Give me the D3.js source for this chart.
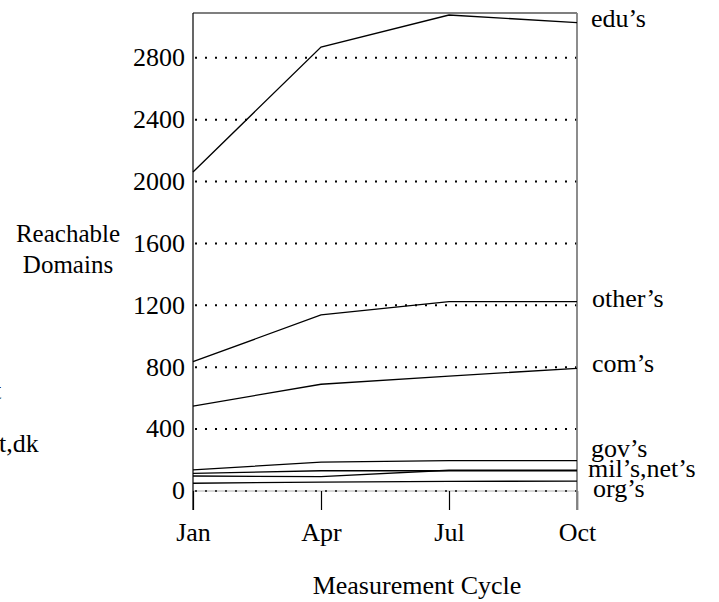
<!DOCTYPE html>
<html>
<head>
<meta charset="utf-8">
<script src="https://cdn.jsdelivr.net/npm/d3@7/dist/d3.min.js"></script>
<style>
  body { margin: 0; background: #fff; }
  svg text { font-family: "Liberation Serif", "Times New Roman", serif; fill: #000; }
</style>
</head>
<body>
<svg id="chart" width="719" height="602"></svg>
<script>
const months = ["Jan", "Apr", "Jul", "Oct"];
const yTicks = [0, 400, 800, 1200, 1600, 2000, 2400, 2800];
const seriesNames = ["edu’s", "other’s", "com’s", "gov’s", "mil’s", "net’s", "org’s"];
const edu   = [2062, 2870, 3077, 3028];
const other = [836, 1138, 1224, 1224];
const com   = [549, 690, 743, 793];
const gov   = [136, 187, 196, 196];
const mil   = [114, 131, 131, 131];
const net   = [97, 93, 134, 134];
const org   = [50, 58, 62, 64];
const labelTexts = ["edu’s", "other’s", "com’s", "gov’s", "mil’s,net’s", "org’s"];
const labelDx = [14, 15, 15, 14, 11, 16];
const labelBaselines = [26.7, 306.7, 371.7, 456.5, 476.5, 496.5];

const svg = d3.select("#chart");
const FS = 26;
const x = d3.scalePoint().domain(months).range([193, 577]);
const y = d3.scaleLinear().domain([0, 3090]).range([491, 13]);

// grid (dotted)
svg.append("g").selectAll("line").data(yTicks).join("line")
  .attr("x1", 195).attr("x2", 582)
  .attr("y1", d => y(d)).attr("y2", d => y(d))
  .attr("stroke", "#000").attr("stroke-width", 2)
  .attr("stroke-dasharray", "2,8");

// baseline thin line at 0
svg.append("line").attr("x1", 193).attr("x2", 577)
  .attr("y1", y(0)).attr("y2", y(0)).attr("stroke", "#999").attr("stroke-width", 0.8);

// frame
svg.append("line").attr("x1", 193).attr("x2", 577).attr("y1", 13).attr("y2", 13)
  .attr("stroke", "#000").attr("stroke-width", 1.2);
svg.append("line").attr("x1", 577).attr("x2", 577).attr("y1", 13).attr("y2", 510)
  .attr("stroke", "#808080").attr("stroke-width", 1.8);
svg.append("line").attr("x1", 193).attr("x2", 193).attr("y1", 13).attr("y2", 510)
  .attr("stroke", "#000").attr("stroke-width", 1.2);

// x axis
const xa = svg.append("g").attr("transform", `translate(0,${y(0)})`)
  .call(d3.axisBottom(x).tickSize(19).tickPadding(0));
xa.select(".domain").remove();
xa.selectAll(".tick line").attr("stroke", "#000").attr("stroke-width", 1.2);
xa.selectAll(".tick:last-of-type line").attr("stroke", "#808080").attr("stroke-width", 1.8);
xa.selectAll(".tick text").attr("y", 50).attr("dy", 0)
  .style("font-size", FS + "px").style("font-family", "Liberation Serif").attr("fill", "#000");

// y axis labels
const ya = svg.append("g").attr("transform", "translate(193,0)")
  .call(d3.axisLeft(y).tickValues(yTicks).tickFormat(d3.format("d")).tickSize(0).tickPadding(8));
ya.select(".domain").remove();
ya.selectAll(".tick text").attr("dy", "0.3em")
  .style("font-size", FS + "px").style("font-family", "Liberation Serif").attr("fill", "#000");

// series lines
const line = d3.line().x((d, i) => x(months[i])).y(d => y(d));
[edu, other, com, gov, mil, net, org].forEach(s => {
  svg.append("path").datum(s).attr("d", line)
    .attr("fill", "none").attr("stroke", "#000").attr("stroke-width", 1.3);
});

// right labels
svg.append("g").selectAll("text").data(labelTexts).join("text")
  .attr("x", (d, i) => 577 + labelDx[i]).attr("y", (d, i) => labelBaselines[i])
  .style("font-size", FS + "px").text(d => d);

// axis titles
svg.append("text").attr("x", 68).attr("y", 242).attr("text-anchor", "middle")
  .style("font-size", "25px").text("Reachable");
svg.append("text").attr("x", 68).attr("y", 273).attr("text-anchor", "middle")
  .style("font-size", "25px").text("Domains");
svg.append("text").attr("x", 417).attr("y", 594).attr("text-anchor", "middle")
  .style("font-size", FS + "px").text("Measurement Cycle");

// stray clipped text at left edge
svg.append("text").attr("x", -6).attr("y", 399).style("font-size", FS + "px").text("t");
svg.append("text").attr("x", -1).attr("y", 452).style("font-size", FS + "px").text("t,dk");
</script>
</body>
</html>
